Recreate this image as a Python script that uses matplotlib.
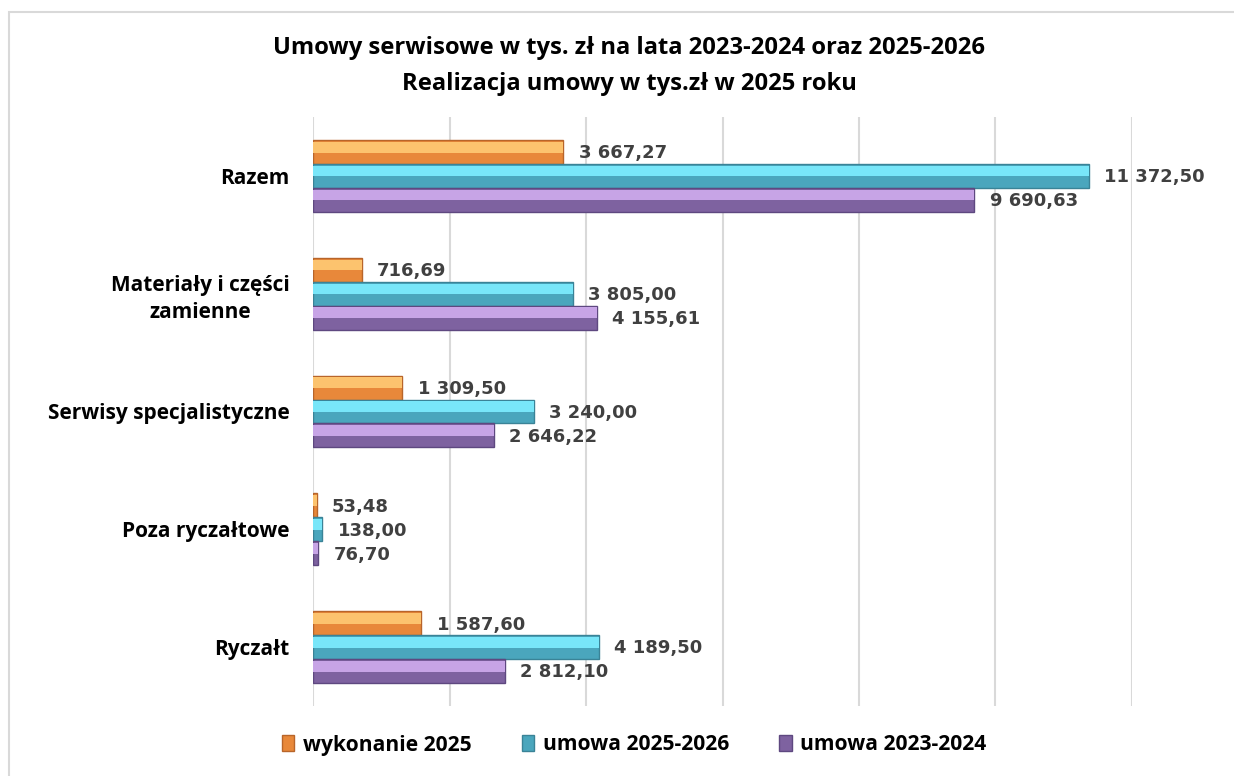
import numpy as np
import matplotlib.pyplot as plt
from matplotlib.patches import Rectangle

categories = ["Ryczałt", "Poza ryczałtowe", "Serwisy specjalistyczne",
              "Materiały i części\nzamienne", "Razem"]
wykonanie_2025 = [1587.60, 53.48, 1309.50, 716.69, 3667.27]
umowa_2025_2026 = [4189.50, 138.00, 3240.00, 3805.00, 11372.50]
umowa_2023_2024 = [2812.10, 76.70, 2646.22, 4155.61, 9690.63]
series_names = ["wykonanie 2025", "umowa 2025-2026", "umowa 2023-2024"]

# (dark, light, edge) for the bevel look
colors = [("#E8883A", "#FCC36E", "#B8652A"),
          ("#4AA6BD", "#78E6F9", "#3A8397"),
          ("#7E62A0", "#C7A4E6", "#5E4880")]

def fmt(v):
    s = f"{v:,.2f}"
    return s.replace(",", " ").replace(".", ",")

fig = plt.figure(figsize=(12.34, 7.76), dpi=100)
fig.patches.append(Rectangle((9 / 1234, -0.01), 1.1, 1 - 12 / 776 + 0.01,
                             transform=fig.transFigure, fill=False,
                             edgecolor="#D9D9D9", linewidth=1.5))
ax = fig.add_axes([313 / 1234, 1 - 706 / 776, (1132 - 313) / 1234, (706 - 117) / 776])

y = np.arange(len(categories))
h = 0.203
offsets = [h, 0, -h]
data = [wykonanie_2025, umowa_2025_2026, umowa_2023_2024]

for vals, off, (dark, light, edge), name in zip(data, offsets, colors, series_names):
    ax.barh(y + off, vals, height=h, color=dark, edgecolor=edge, linewidth=1.0,
            label=name, zorder=3)
    ax.barh(y + off + h * 0.2, vals, height=h * 0.45, color=light,
            linewidth=0, zorder=4)
    for yy, v in zip(y + off, vals):
        ax.annotate(fmt(v), (v, yy), xytext=(11, -1), textcoords="offset points",
                    va="center", ha="left", fontsize=13, fontweight="bold",
                    color="#404040", family="DejaVu Sans", zorder=5,
                    annotation_clip=False)

ax.set_xlim(0, 12000)
ax.set_ylim(-0.5, 4.5)
ax.set_xticks(np.arange(0, 12001, 2000))
ax.set_xticklabels([])
ax.grid(axis="x", color="#D9D9D9", linewidth=1.5, zorder=0)
ax.tick_params(length=0)
ax.set_yticks(y)
ax.set_yticklabels(categories, fontsize=15, fontweight="bold", family="Open Sans",
                   multialignment="center", linespacing=1.35)
ax.tick_params(axis="y", pad=17)
for s in ax.spines.values():
    s.set_visible(False)

fig.text(629 / 1234, 1 - 48 / 776, "Umowy serwisowe w tys. zł na lata 2023-2024 oraz 2025-2026",
         ha="center", va="center", fontsize=17.1, fontweight="bold", family="Open Sans")
fig.text(629 / 1234, 1 - 84 / 776, "Realizacja umowy w tys.zł w 2025 roku",
         ha="center", va="center", fontsize=17.1, fontweight="bold", family="Open Sans")

leg = fig.legend(loc="center", bbox_to_anchor=(634 / 1234, 1 - 745 / 776), ncol=3,
                 frameon=False, prop={"family": "Open Sans", "weight": "bold", "size": 15.1},
                 handlelength=0.6, handleheight=0.8, handletextpad=0.4, columnspacing=2.4)

fig.savefig("out.png", dpi=100)
